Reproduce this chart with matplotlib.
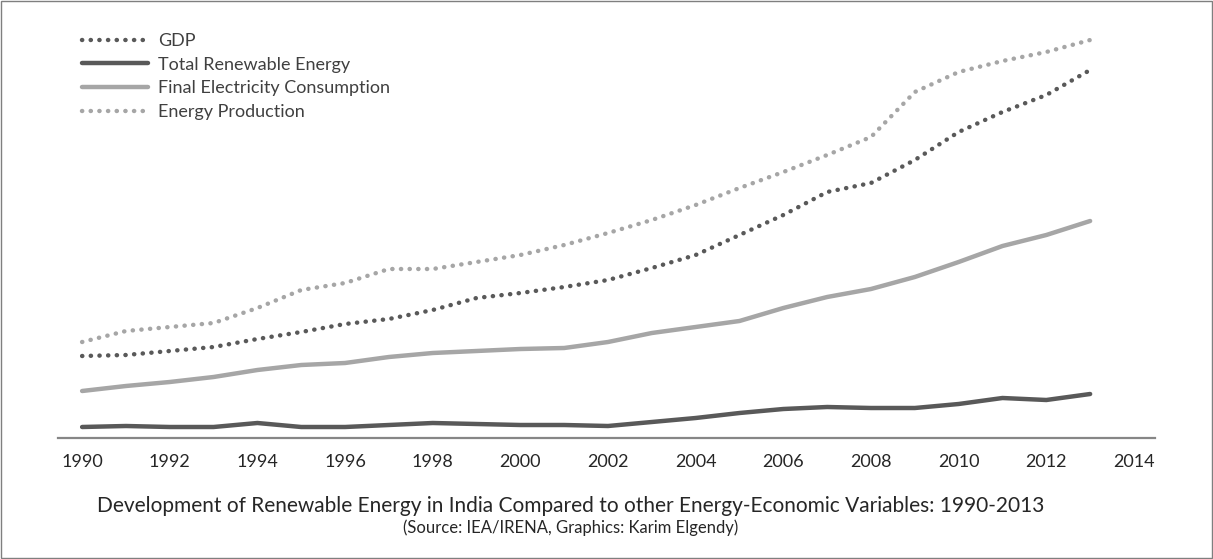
import numpy as np
import matplotlib
matplotlib.use("Agg")
import matplotlib.pyplot as plt
from matplotlib.patches import Rectangle

plt.rcParams['font.family'] = ['Lato', 'DejaVu Sans']

years = list(range(1990, 2014))

# index values (no y scale shown)
gdp = [82, 83, 87, 91, 99, 106, 114, 119, 128, 140, 145, 151, 158, 170, 183, 203,
       223, 246, 255, 278, 306, 326, 343, 368]
renewable = [11, 12, 11, 11, 15, 11, 11, 13, 15, 14, 13, 13, 12, 16, 20, 25,
             29, 31, 30, 30, 34, 40, 38, 44]
electricity = [47, 52, 56, 61, 68, 73, 75, 81, 85, 87, 89, 90, 96, 105, 111, 117,
               130, 141, 149, 161, 176, 192, 203, 217]
energy_prod = [96, 107, 111, 115, 130, 148, 155, 169, 169, 176, 183, 193, 205, 218, 233, 250,
               266, 283, 301, 346, 366, 377, 386, 398]

tick_years = list(range(1990, 2015, 2))

dark = '#595959'
light = '#a6a6a6'

fig = plt.figure(figsize=(12.13, 5.59), dpi=100)
ax = fig.add_axes([58 / 1213, 1 - 438 / 559, 1097 / 1213, 408 / 559])

dots = (0, (0.05, 1.9))
ax.plot(years, gdp, color=dark, lw=3.2, linestyle=dots, dash_capstyle='round', label='GDP')
ax.plot(years, renewable, color=dark, lw=3.2, solid_capstyle='round', label='Total Renewable Energy')
ax.plot(years, electricity, color=light, lw=3.2, solid_capstyle='round', label='Final Electricity Consumption')
ax.plot(years, energy_prod, color=light, lw=3.2, linestyle=dots, dash_capstyle='round', label='Energy Production')

ax.set_xlim(1989.45, 2014.48)
ax.set_ylim(0, 408)
ax.set_xticks(tick_years)
ax.set_xticklabels([str(y) for y in tick_years], fontsize=13, color='#262626')
ax.tick_params(axis='x', length=0, pad=11.5)
ax.set_yticks([])
for s in ['top', 'right', 'left']:
    ax.spines[s].set_visible(False)
ax.spines['bottom'].set_color('#868686')
ax.spines['bottom'].set_linewidth(1.6)

leg = ax.legend(loc='upper left', bbox_to_anchor=(0.022, 0.993), frameon=False, fontsize=13,
                handlelength=3.65, handletextpad=0.55, labelspacing=0.43, borderpad=0, borderaxespad=0)
for t in leg.get_texts():
    t.set_color('#404040')

fig.text(571 / 1213, 1 - 506 / 559, 'Development of Renewable Energy in India Compared to other Energy-Economic Variables: 1990-2013',
         ha='center', va='center', fontsize=15, color='#262626')
fig.text(571 / 1213, 1 - 528 / 559, '(Source: IEA/IRENA, Graphics: Karim Elgendy)',
         ha='center', va='center', fontsize=12, color='#262626')

fig.patches.append(Rectangle((0.0008, 0.001), 0.9984, 0.997, transform=fig.transFigure,
                             fill=False, edgecolor='#7f7f7f', lw=1.0))

fig.savefig('out.png', dpi=100)
